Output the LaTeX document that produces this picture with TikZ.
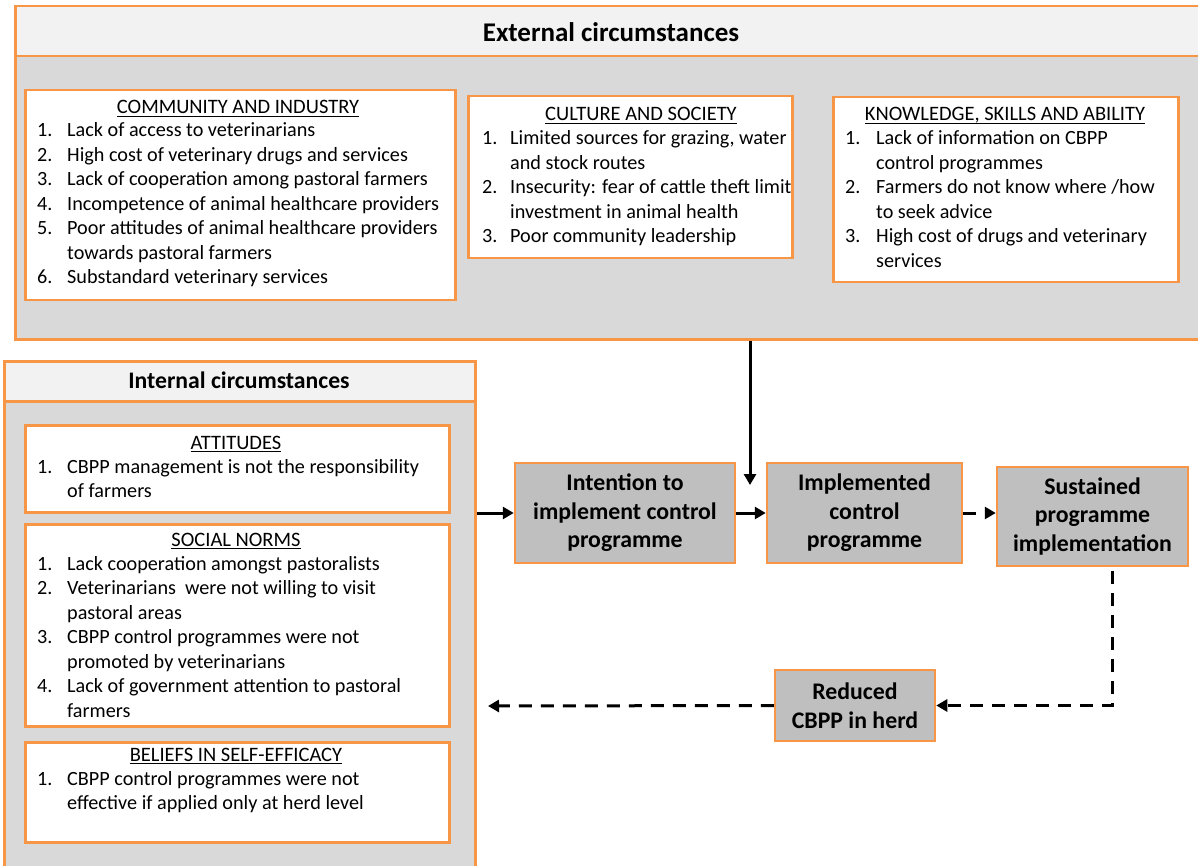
\documentclass[tikz,border=0pt]{standalone}
\usepackage{fontspec}
\setmainfont{Carlito}
\usetikzlibrary{arrows.meta}
\definecolor{org}{HTML}{F79646}
\definecolor{hdrgray}{HTML}{F2F2F2}
\definecolor{bodygray}{HTML}{D9D9D9}
\definecolor{flowgray}{HTML}{BFBFBF}
\newcommand{\hd}[1]{\setbox0\hbox{#1}\rlap{\rule[-3pt]{\wd0}{1.2pt}}\box0}
\tikzset{
 box/.style={draw=org, line width=2.5pt, anchor=north west, inner sep=0pt, rectangle},
 extbody/.style={box, fill=bodygray},
 hdrbox/.style={box, fill=hdrgray},
 subbox/.style={box, fill=white},
 flowbox/.style={draw=org, line width=2.5pt, fill=flowgray, align=center, font=\fontsize{23.8}{28.5}\selectfont\bfseries, inner sep=0pt},
 ttl/.style={anchor=base, font=\fontsize{20.5}{24.5}\selectfont, inner sep=0pt},
 items/.style={anchor=base west, font=\fontsize{20.2}{24.5}\selectfont, inner sep=0pt},
 arr/.style={line width=3pt, -{Triangle[length=11pt,width=12pt]}},
 dsh/.style={dash pattern=on 13pt off 9pt},
}
\begin{document}
\begin{tikzpicture}[x=1pt,y=-1pt]
\useasboundingbox (0,0) rectangle (1198,866);
% External
\node[extbody, minimum width=1186pt, minimum height=333pt] (ext) at (14,5) {};
\node[hdrbox, minimum width=1186pt, minimum height=50pt] (exthdr) at (14,5) {};
\node[font=\fontsize{27}{32}\selectfont\bfseries] (exttitle) at (611,32) {External circumstances};
% Community
\node[subbox, minimum width=430pt, minimum height=210pt] (comm) at (24,89) {};
\node[ttl] (commt) at (238,114) {\hd{COMMUNITY AND INDUSTRY}};
\node[items] (commi) at (37,137) {\begin{tabular}[t]{@{}p{30pt}@{}l@{}}
1. & Lack of access to veterinarians\\
2. & High cost of veterinary drugs and services\\
3. & Lack of cooperation among pastoral farmers\\
4. & Incompetence of animal healthcare providers\\
5. & Poor attitudes of animal healthcare providers\\
   & towards pastoral farmers\\
6. & Substandard veterinary services
\end{tabular}};
% Culture
\node[subbox, minimum width=324pt, minimum height=162pt] (cult) at (467,95) {};
\node[ttl] (cultt) at (641,121) {\hd{CULTURE AND SOCIETY}};
\node[items] (culti) at (482,145) {\begin{tabular}[t]{@{}p{28pt}@{}l@{}}
1. & Limited sources for grazing, water\\
   & and stock routes\\
2. & Insecurity: fear of cattle theft limit\\
   & investment in animal health\\
3. & Poor community leadership
\end{tabular}};
% Knowledge
\node[subbox, minimum width=345pt, minimum height=185pt] (know) at (832,96) {};
\node[ttl] (knowt) at (1005,121) {\hd{KNOWLEDGE, SKILLS AND ABILITY}};
\node[items] (knowi) at (845,145) {\begin{tabular}[t]{@{}p{31pt}@{}l@{}}
1. & Lack of information on CBPP\\
   & control programmes\\
2. & Farmers do not know where /how\\
   & to seek advice\\
3. & High cost of drugs and veterinary\\
   & services
\end{tabular}};
% Internal
\node[extbody, minimum width=471pt, minimum height=520pt] (int) at (3,360) {};
\node[hdrbox, minimum width=471pt, minimum height=40pt] (inthdr) at (3,360) {};
\node[font=\fontsize{23.7}{28}\selectfont\bfseries] (inttitle) at (239,380) {Internal circumstances};
% Attitudes
\node[subbox, minimum width=424pt, minimum height=87pt] (att) at (24,424) {};
\node[ttl] (attt) at (236,449) {\hd{ATTITUDES}};
\node[items] (atti) at (37,473) {\begin{tabular}[t]{@{}p{30pt}@{}l@{}}
1. & CBPP management is not the responsibility\\
   & of farmers
\end{tabular}};
% Social norms
\node[subbox, minimum width=424pt, minimum height=202pt] (soc) at (24,523) {};
\node[ttl] (soct) at (236,546) {\hd{SOCIAL NORMS}};
\node[items] (soci) at (37,570) {\begin{tabular}[t]{@{}p{30pt}@{}l@{}}
1. & Lack cooperation amongst pastoralists\\
2. & Veterinarians\ \ were not willing to visit\\
   & pastoral areas\\
3. & CBPP control programmes were not\\
   & promoted by veterinarians\\
4. & Lack of government attention to pastoral\\
   & farmers
\end{tabular}};
% Beliefs
\node[subbox, minimum width=424pt, minimum height=100pt] (bel) at (24,741) {};
\node[ttl] (belt) at (236,761) {\hd{BELIEFS IN SELF-EFFICACY}};
\node[items] (beli) at (37,785) {\begin{tabular}[t]{@{}p{30pt}@{}l@{}}
1. & CBPP control programmes were not\\
   & effective if applied only at herd level
\end{tabular}};
% Flow boxes
\node[flowbox, minimum width=220pt, minimum height=100pt] (intent) at (625,513) {Intention to\\implement control\\programme};
\node[flowbox, minimum width=195pt, minimum height=100pt] (impl) at (864.5,513) {Implemented\\control\\programme};
\node[flowbox, minimum width=191pt, minimum height=99pt] (sust) at (1092.5,516.5) {Sustained\\programme\\implementation};
\node[flowbox, minimum width=160pt, minimum height=71pt] (red) at (855,705.5) {Reduced\\CBPP in herd};
% Connectors
\coordinate (dn) at (750,485);
\coordinate (sd) at (1112,571);
\coordinate (tip) at (488,706);
\draw[arr] (ext.south -| dn) -- (dn);
\draw[arr] (int.east |- intent.west) -- (intent.west);
\draw[arr] (intent.east) -- (impl.west);
\draw[arr, dsh] (impl.east) -- (impl.east -| sust.west);
\draw[arr, dsh] (sd) |- (red.east);
\draw[arr, dsh] (red.west) -- (tip);
\end{tikzpicture}
\end{document}
